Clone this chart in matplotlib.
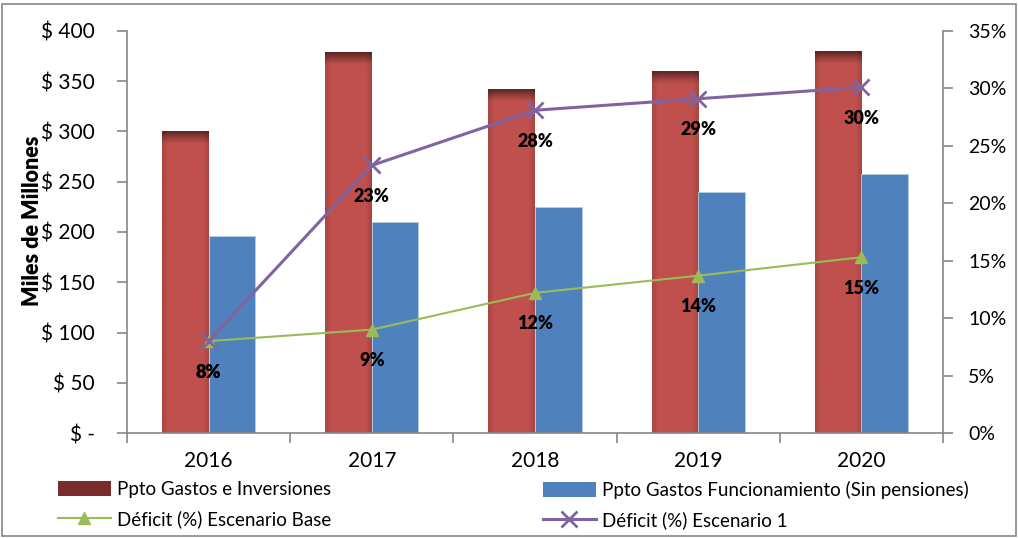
import numpy as np
import matplotlib
matplotlib.use("Agg")
import matplotlib.pyplot as plt
from matplotlib.patches import Rectangle, Patch
from matplotlib.lines import Line2D
from matplotlib.ticker import FuncFormatter

plt.rcParams['font.family'] = ['Lato', 'DejaVu Sans']

years = ["2016", "2017", "2018", "2019", "2020"]
gastos_inversiones = [300, 379, 342, 360, 380]
gastos_funcionamiento = [196, 210, 225, 240, 258]
deficit_base = [8.0, 9.0, 12.2, 13.7, 15.3]
deficit_esc1 = [8.0, 23.3, 28.1, 29.1, 30.1]
base_labels = ["8%", "9%", "12%", "14%", "15%"]
esc1_labels = ["8%", "23%", "28%", "29%", "30%"]

RED = "#C0504D"
BLUE = "#4F81BD"
GREEN = "#9BBB59"
PURPLE = "#8064A2"
AXC = "#868686"

W, H = 1018, 538
fig = plt.figure(figsize=(W / 100, H / 100), dpi=100)
ax = fig.add_axes([127 / W, 1 - 433 / H, (943 - 127) / W, (433 - 31) / H])
ax2 = ax.twinx()

x = np.arange(len(years))
bw = 0.285

red_rgb = np.array(matplotlib.colors.to_rgb(RED))
for xi, v in zip(x, gastos_inversiones):
    x0 = xi - bw
    ny, nx = 200, 40
    yy = np.linspace(0, 1, ny)[:, None]
    xx = np.linspace(0, 1, nx)[None, :]
    band = 12 / 402 * 400 / v
    t = np.clip((yy - (1 - band)) / band, 0, 1)
    fac_top = 1 - 0.5 * t ** 1.2
    edge = np.minimum(xx, 1 - xx)
    fac_side = 1 - 0.12 * np.clip(1 - edge / 0.12, 0, 1)
    fac = fac_top * fac_side
    img = red_rgb[None, None, :] * fac[:, :, None]
    ax.imshow(img, extent=(x0, x0 + bw, 0, v), origin='lower', aspect='auto',
              zorder=2, interpolation='bilinear')
ax.bar(x - bw / 2, gastos_inversiones, bw, color='none', edgecolor='none', zorder=2)
ax.bar(x + bw / 2, gastos_funcionamiento, bw, color=BLUE, edgecolor='#B8CCE4',
       linewidth=0.6, zorder=2)
ax.set_aspect('auto')
ax.set_xlim(-0.5, len(years) - 0.5)
ax.set_ylim(0, 400)

ax2.set_ylim(0, 35)
ax2.plot(x, deficit_base, color=GREEN, lw=1.5, marker='^', ms=8, zorder=4)
ax2.plot(x, deficit_esc1, color=PURPLE, lw=2.2, marker='x', ms=12, mew=2, zorder=5)
for xi, v, lab in zip(x, deficit_base, base_labels):
    ax2.annotate(lab, (xi, v), xytext=(0, -31), textcoords='offset pixels',
                 ha='center', va='center', fontsize=13, fontweight='heavy', zorder=6)
for xi, v, lab in zip(x, deficit_esc1, esc1_labels):
    ax2.annotate(lab, (xi, v), xytext=(0, -31), textcoords='offset pixels',
                 ha='center', va='center', fontsize=13, fontweight='heavy', zorder=6)

ax.set_yticks(np.arange(0, 401, 50))
ax.yaxis.set_major_formatter(FuncFormatter(lambda v, p: "$ -" if v == 0 else f"$ {int(v)}"))
ax2.set_yticks(np.arange(0, 36, 5))
ax2.yaxis.set_major_formatter(FuncFormatter(lambda v, p: f"{int(round(v))}%"))

ax.set_xticks(x)
ax.set_xticklabels(years)
ax.set_xticks(np.arange(-0.5, len(years), 1), minor=True)
ax.tick_params(axis='x', which='major', length=0, pad=13, labelsize=15)
ax.tick_params(axis='x', which='minor', length=7, color=AXC, width=1.2, direction='out')
ax.tick_params(axis='y', length=7, color=AXC, width=1.2, labelsize=15, pad=16)
ax2.tick_params(axis='y', length=7, color=AXC, width=1.2, labelsize=14, pad=11)

for a in (ax, ax2):
    a.spines['top'].set_visible(False)
    for s in ('left', 'right', 'bottom'):
        a.spines[s].set_color(AXC)
        a.spines[s].set_linewidth(1.2)
ax.spines['right'].set_visible(False)
ax2.spines['left'].set_visible(False)
ax2.spines['bottom'].set_visible(False)

fig.text(33 / W, 1 - 221 / H, "Miles de Millones", rotation=90, ha='center',
         va='center', fontsize=15.5, fontweight='heavy')

h1 = [Patch(facecolor="#7B2D2B", edgecolor='none'),
      Line2D([], [], color=GREEN, lw=1.5, marker='^', ms=8)]
l1 = ["Ppto Gastos e Inversiones", "Déficit (%) Escenario Base"]
h2 = [Patch(facecolor=BLUE, edgecolor='none'),
      Line2D([], [], color=PURPLE, lw=2.2, marker='x', ms=12, mew=2)]
l2 = ["Ppto Gastos Funcionamiento (Sin pensiones)", "Déficit (%) Escenario 1"]
kw = dict(frameon=False, fontsize=13.5, handlelength=2.8, handletextpad=0.35,
          labelspacing=0.65, borderpad=0, borderaxespad=0, loc='upper left',
          handleheight=0.8)
fig.legend(h1, l1, bbox_to_anchor=(58 / W, 1 - 481 / H), **kw)
fig.legend(h2, l2, bbox_to_anchor=(543 / W, 1 - 481 / H), **kw)

fig.patches.append(Rectangle((2 / W, 2 / H), 1014 / W, 532 / H, transform=fig.transFigure,
                             fill=False, edgecolor=AXC, linewidth=1.2))

fig.savefig("out.png", dpi=100)
